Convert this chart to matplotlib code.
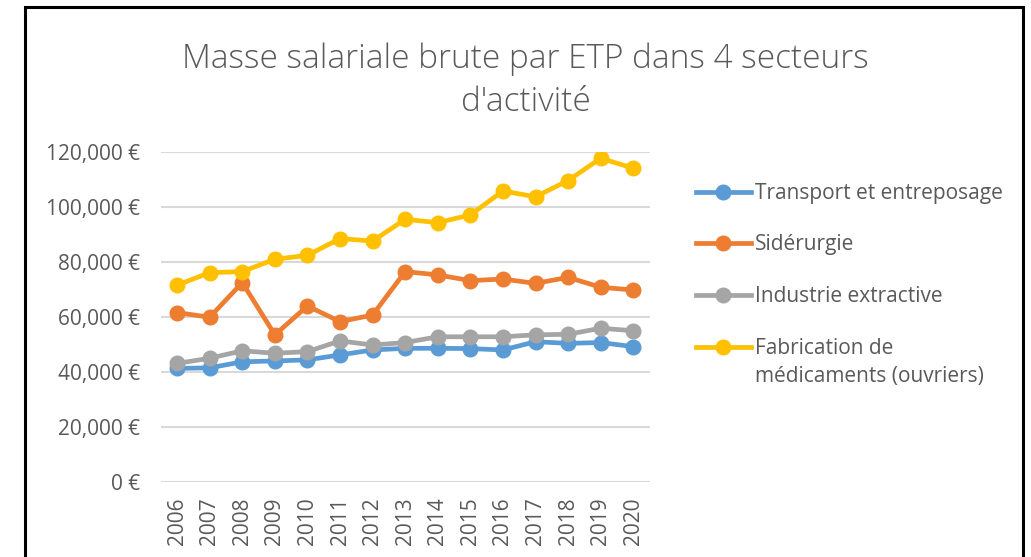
import matplotlib.pyplot as plt
from matplotlib.lines import Line2D
from matplotlib.patches import Rectangle
from matplotlib.ticker import FuncFormatter

plt.rcParams['font.family'] = ['Open Sans', 'DejaVu Sans']

# Data
years = list(range(2006, 2021))
transport = [41300, 41500, 43700, 44000, 44400, 46200, 48000, 48600,
             48600, 48500, 48000, 51000, 50400, 50700, 49200]
siderurgie = [61600, 59900, 72500, 53500, 64000, 58300, 60700, 76500,
              75300, 73200, 73800, 72200, 74400, 70800, 69800]
extractive = [43100, 45000, 47700, 46800, 47400, 51300, 49800, 50700,
              52800, 52800, 52800, 53500, 53700, 55900, 55000]
medicaments = [71600, 76100, 76500, 81000, 82400, 88500, 87600, 95500,
               94300, 97100, 105800, 103700, 109600, 117700, 114100]

series = [transport, siderurgie, extractive, medicaments]
labels = ['Transport et entreposage', 'Sidérurgie', 'Industrie extractive',
          'Fabrication de\nmédicaments (ouvriers)']
colors = ['#5B9BD5', '#ED7D31', '#A5A5A5', '#FFC000']

txt = '#595959'

fig = plt.figure(figsize=(10.31, 5.57), dpi=100)
ax = fig.add_axes([0.156, 0.1347, 0.474, 0.5925])

x = list(range(len(years)))
for vals, col in zip(series, colors):
    ax.plot(x, vals, color=col, lw=3.4, marker='o', markersize=10.5, zorder=3)

ax.set_xlim(-0.5, len(years) - 0.5)
ax.set_ylim(0, 120000)
ax.set_yticks(range(0, 120001, 20000))
ax.yaxis.set_major_formatter(FuncFormatter(lambda v, p: f'{int(v):,} €'))
ax.set_xticks(x)
ax.set_xticklabels([str(y) for y in years], rotation=90)
ax.tick_params(length=0, labelsize=15, colors=txt)
ax.tick_params(axis='x', pad=11)
ax.tick_params(axis='y', pad=15)
ax.grid(axis='y', color='#D9D9D9', lw=1.5)
ax.set_axisbelow(True)
for s in ax.spines.values():
    s.set_visible(False)

# Title
fig.text(0.51, 0.855, 'Masse salariale brute par ETP dans 4 secteurs\nd\'activité',
         ha='center', va='center', fontsize=24, color=txt, fontweight='light',
         linespacing=1.39)

# Legend (Excel style: marker aligned with the first text line)
leg_y = [192, 243, 295, 347]
H = 557
W = 1031
for col, lab, yy in zip(colors, labels, leg_y):
    fy = 1 - yy / H
    fig.add_artist(Line2D([696 / W, 751 / W], [fy, fy], color=col, lw=3.4,
                          transform=fig.transFigure))
    fig.add_artist(Line2D([723 / W], [fy], color=col, marker='o', markersize=10.5,
                          transform=fig.transFigure))
    for i, line in enumerate(lab.split('\n')):
        fig.text(755 / W, 1 - (yy + 7 + i * 28) / H, line, ha='left',
                 va='baseline', fontsize=15, color=txt)

# Frame
fig.add_artist(Rectangle((25 / W, -0.05), 998 / W, 1.05 - 7 / H, fill=False,
                         edgecolor='black', lw=2.2, transform=fig.transFigure))

fig.savefig('out.png', dpi=100)
